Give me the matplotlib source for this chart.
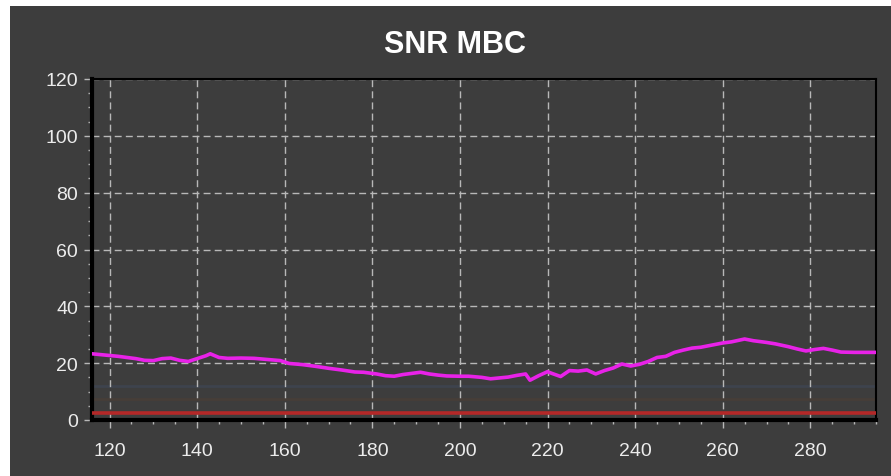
import matplotlib.pyplot as plt
from matplotlib.patches import Rectangle
from matplotlib.ticker import MultipleLocator

# SNR trace
snr_x = [116, 118, 120, 122, 124, 126, 128, 130, 132, 134, 136, 138, 140, 142, 143,
         145, 147, 150, 153, 156, 159, 161, 164, 167, 170, 173, 176, 178, 181, 183,
         185, 187, 189, 191, 193, 195, 197, 200, 202, 205, 207, 209, 211, 213, 215,
         216, 218, 220, 221, 223, 225, 227, 229, 231, 233, 235, 237, 239, 241, 243,
         245, 247, 249, 251, 253, 255, 257, 260, 262, 265, 267, 270, 272, 275, 277,
         279, 281, 283, 285, 287, 290, 292, 295]
snr_y = [23.3, 23.0, 22.7, 22.4, 22.0, 21.6, 21.0, 20.9, 21.6, 21.8, 21.0, 20.6, 21.6, 22.6, 23.3,
         22.0, 21.7, 21.8, 21.7, 21.3, 20.9, 19.9, 19.5, 18.9, 18.2, 17.6, 16.9, 16.8, 16.2, 15.6,
         15.4, 16.0, 16.4, 16.8, 16.2, 15.8, 15.5, 15.4, 15.4, 15.0, 14.5, 14.8, 15.1, 15.7, 16.2,
         14.0, 15.6, 17.0, 16.4, 15.3, 17.4, 17.2, 17.6, 16.2, 17.4, 18.3, 19.7, 19.0, 19.6, 20.6,
         22.0, 22.4, 23.8, 24.6, 25.3, 25.6, 26.2, 27.1, 27.5, 28.5, 27.9, 27.3, 26.8, 25.8, 25.0,
         24.3, 24.8, 25.2, 24.6, 23.9, 23.8, 23.8, 23.8]

# threshold and faint background traces
threshold = 2.5
faint_levels = [7.5, 12.0]
faint_colors = ['#463e38', '#3e434d']

x_range = [116, 295]
y_range = [0, 120]
x_ticks = [120, 140, 160, 180, 200, 220, 240, 260, 280]
y_ticks = [0, 20, 40, 60, 80, 100, 120]

bg = '#3d3d3d'
txt = '#ececec'

fig = plt.figure(figsize=(8.91, 4.77), dpi=100, facecolor='white')
fig.patches.append(Rectangle((10 / 891, 0), 1, 1 - 7 / 477, transform=fig.transFigure,
                             facecolor=bg, edgecolor='none', zorder=-10))

ax = fig.add_axes([92 / 891, 1 - 421 / 477, (876 - 92) / 891, (421 - 80) / 477])
ax.set_facecolor(bg)

for lvl, col in zip(faint_levels, faint_colors):
    ax.axhline(lvl, color=col, lw=2, zorder=1)
ax.axhline(threshold, color='#b42828', lw=2.6, zorder=3)
ax.plot(snr_x, snr_y, color='#e822e8', lw=2.6, zorder=4)

ax.set_xlim(x_range)
ax.set_ylim(y_range)
ax.set_xticks(x_ticks)
ax.set_yticks(y_ticks)
ax.xaxis.set_minor_locator(MultipleLocator(5))
ax.yaxis.set_minor_locator(MultipleLocator(5))

ax.grid(True, which='major', color='#b8b8b8', linestyle=(0, (5, 3)), lw=1, zorder=2)
ax.tick_params(which='major', length=6, width=1, color='#b8b8b8', labelcolor=txt,
               labelsize=14)
ax.tick_params(axis='x', which='major', pad=10)
ax.tick_params(axis='y', which='major', pad=4)
ax.tick_params(which='minor', length=3, width=1, color='#b8b8b8')
for lab in ax.get_xticklabels() + ax.get_yticklabels():
    lab.set_fontfamily('Liberation Sans')

for side in ['left', 'bottom']:
    ax.spines[side].set_linewidth(3)
    ax.spines[side].set_color('black')
for side in ['top', 'right']:
    ax.spines[side].set_linewidth(1.5)
    ax.spines[side].set_color('black')

fig.text(455 / 891, 1 - 45 / 477, 'SNR MBC', ha='center', va='center', color='white',
         fontsize=22, fontweight='bold', family='Liberation Sans')

fig.savefig('out.png', dpi=100, facecolor=fig.get_facecolor())
